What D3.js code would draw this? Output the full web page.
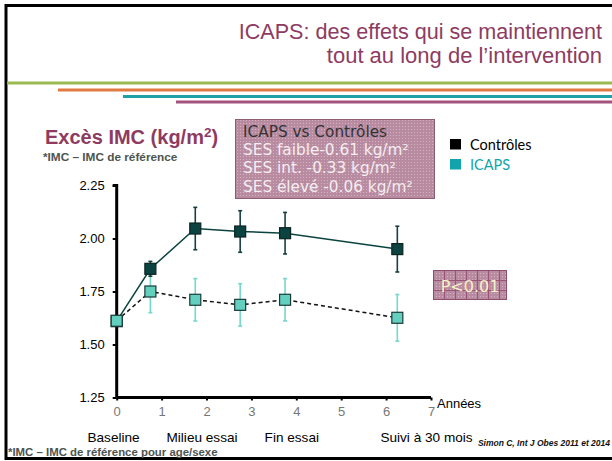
<!DOCTYPE html>
<html>
<head>
<meta charset="utf-8">
<script src="https://cdn.jsdelivr.net/npm/d3@7"></script>
<style>
  body { margin: 0; background: #fff; }
  svg { display: block; }
</style>
</head>
<body>
<svg id="chart" width="612" height="461"></svg>
<script>
// data
var years = [0, 0.75, 1.75, 2.75, 3.75, 6.25];
var controles = [1.61, 1.857, 2.047, 2.033, 2.025, 1.95];
var controlesErr = [0, 0.035, 0.1, 0.098, 0.098, 0.108];
var icaps = [1.612, 1.75, 1.711, 1.687, 1.711, 1.626];
var icapsErr = [0, 0.1, 0.1, 0.1, 0.1, 0.11];
var yTicks = [1.25, 1.50, 1.75, 2.00, 2.25];
var xTicks = [0, 1, 2, 3, 4, 5, 6, 7];
var phases = ['Baseline', 'Milieu essai', 'Fin essai', 'Suivi à 30 mois'];
var phaseYears = [-0.07, 1.9, 3.9, 6.9];
var sesLines = ['SES faible-0.61 kg/m²', 'SES int. -0.33 kg/m²', 'SES élevé -0.06 kg/m²'];

var MAUVE = '#8e3b62';
var DARK = '#0b4340';
var TEAL = '#62cfbf';
var ARIAL = '"Liberation Sans", Arial, sans-serif';

var svg = d3.select('#chart');
var defs = svg.append('defs');

// dotted fill for the SES box
var dots = defs.append('pattern').attr('id', 'dots')
  .attr('width', 3).attr('height', 3).attr('patternUnits', 'userSpaceOnUse');
dots.append('rect').attr('width', 3).attr('height', 3).attr('fill', '#b98ba1');
dots.append('rect').attr('width', 1).attr('height', 1).attr('fill', '#d3b2c2');

// grid fill for the p-value box
var grid = defs.append('pattern').attr('id', 'grid')
  .attr('width', 11).attr('height', 10).attr('patternUnits', 'userSpaceOnUse')
  .attr('x', 433).attr('y', 270);
grid.append('rect').attr('width', 11).attr('height', 10).attr('fill', 'url(#dots)');
grid.append('path').attr('d', 'M0,0.5H11M0.5,0V10').attr('stroke', '#9a5477').attr('stroke-width', 1);

// frame
svg.append('path').attr('d', 'M612,5.5H6V458.5H612')
  .attr('fill', 'none').attr('stroke', '#000').attr('stroke-width', 3);

// coloured rules under the title
var rules = [
  {x: 7, y: 83, c: '#9cba52'},
  {x: 58, y: 90, c: '#e07a42'},
  {x: 123, y: 96.5, c: '#1fa0a6'},
  {x: 176, y: 102, c: '#a4527e'}
];
svg.selectAll('.rule').data(rules).enter().append('line')
  .attr('x1', function(d){ return d.x; }).attr('x2', 612)
  .attr('y1', function(d){ return d.y; }).attr('y2', function(d){ return d.y; })
  .attr('stroke', function(d){ return d.c; }).attr('stroke-width', 2.8);

// title
svg.append('text').attr('x', 602).attr('y', 39).attr('text-anchor', 'end')
  .style('font', '21.6px ' + ARIAL).attr('fill', MAUVE)
  .text('ICAPS: des effets qui se maintiennent');
svg.append('text').attr('x', 602).attr('y', 63).attr('text-anchor', 'end')
  .style('font', '22px ' + ARIAL).attr('fill', MAUVE)
  .text('tout au long de l’intervention');

// heading
var head = svg.append('text').attr('x', 45).attr('y', 144)
  .style('font', 'bold 20px ' + ARIAL).attr('fill', MAUVE);
head.append('tspan').text('Excès IMC (kg/m');
head.append('tspan').attr('dy', -7).style('font-size', '13.5px').text('2');
head.append('tspan').attr('dy', 7).text(')');
svg.append('text').attr('x', 43).attr('y', 160.5)
  .style('font', 'bold 11.8px ' + ARIAL).attr('fill', '#4d5450')
  .text('*IMC – IMC de référence');

// scales
var x = d3.scaleLinear().domain([0, 7]).range([116.7, 431]);
var y = d3.scaleLinear().domain([1.25, 2.25]).range([397.5, 185.5]);

// y axis
var yAxis = svg.append('g').attr('transform', 'translate(' + x(0) + ',0)')
  .call(d3.axisLeft(y).tickValues(yTicks).tickFormat(d3.format('.2f')).tickSize(4).tickPadding(8));
yAxis.select('.domain').attr('stroke-width', 3).attr('d', 'M-4,' + y(2.25) + 'H0V' + y(1.25));
yAxis.selectAll('.tick line').attr('stroke-width', 2);
yAxis.selectAll('.tick text').style('font', '13px ' + ARIAL).attr('fill', '#000');

// x axis
var xAxis = svg.append('g').attr('transform', 'translate(0,' + y(1.25) + ')')
  .call(d3.axisBottom(x).tickValues(xTicks).tickFormat(d3.format('d')).tickSize(3).tickPadding(6));
xAxis.select('.domain').attr('stroke-width', 3).attr('d', 'M' + x(0) + ',0H' + x(7));
xAxis.selectAll('.tick line').attr('stroke-width', 2);
xAxis.selectAll('.tick text').style('font', '13px ' + ARIAL).attr('fill', '#777');

svg.append('text').attr('x', 437).attr('y', 408)
  .style('font', '13px ' + ARIAL).attr('fill', '#000').text('Années');

svg.selectAll('.phase').data(phases).enter().append('text')
  .attr('x', function(d, i){ return x(phaseYears[i]); }).attr('y', 441.5)
  .attr('text-anchor', 'middle')
  .style('font', '13.6px ' + ARIAL).attr('fill', '#000')
  .text(function(d){ return d; });

// series: error bars + connecting line
function drawSeries(vals, errs, opt) {
  var pts = years.map(function(t, i){ return {t: t, v: vals[i], e: errs[i]}; });
  var g = svg.append('g');
  var bars = g.selectAll('.err').data(pts.filter(function(d){ return d.e > 0; })).enter().append('g');
  bars.append('line')
    .attr('x1', function(d){ return x(d.t); }).attr('x2', function(d){ return x(d.t); })
    .attr('y1', function(d){ return y(d.v - d.e); }).attr('y2', function(d){ return y(d.v + d.e); })
    .attr('stroke', opt.err).attr('stroke-width', 1.6);
  [-1, 1].forEach(function(s){
    bars.append('line')
      .attr('x1', function(d){ return x(d.t) - 2; }).attr('x2', function(d){ return x(d.t) + 2; })
      .attr('y1', function(d){ return y(d.v + s * d.e); }).attr('y2', function(d){ return y(d.v + s * d.e); })
      .attr('stroke', opt.err).attr('stroke-width', 1.6);
  });
  g.append('path').datum(pts)
    .attr('d', d3.line().x(function(d){ return x(d.t); }).y(function(d){ return y(d.v); }))
    .attr('fill', 'none').attr('stroke', opt.line).attr('stroke-width', 1.5)
    .attr('stroke-dasharray', opt.dash);
  return pts;
}
function drawMarkers(pts, fill, stroke) {
  svg.append('g').selectAll('rect').data(pts).enter().append('rect')
    .attr('x', function(d){ return x(d.t) - 5.5; }).attr('y', function(d){ return y(d.v) - 5.5; })
    .attr('width', 11).attr('height', 11)
    .attr('fill', fill).attr('stroke', stroke).attr('stroke-width', 1.2);
}

var pIcaps = drawSeries(icaps, icapsErr, {err: '#74d8ca', line: '#111', dash: '4,3'});
var pCtrl = drawSeries(controles, controlesErr, {err: '#17413f', line: DARK, dash: null});
drawMarkers(pCtrl, DARK, '#0a2422');
// ICAPS on top (shared baseline point shows teal)
drawMarkers(pIcaps, TEAL, '#1b3b38');

// SES box
svg.append('rect').attr('x', 235.5).attr('y', 119.5).attr('width', 199).attr('height', 79)
  .attr('fill', 'url(#dots)').attr('stroke', '#8d5d74').attr('stroke-width', 1);
svg.append('text').attr('x', 243).attr('y', 137)
  .style('font', '15.3px "DejaVu Sans", Verdana, sans-serif').attr('fill', '#333').text('ICAPS vs Contrôles');
svg.selectAll('.ses').data(sesLines).enter().append('text')
  .attr('x', 243).attr('y', function(d, i){ return 155 + i * 18.3; })
  .style('font', '15.3px "DejaVu Sans", Verdana, sans-serif').attr('fill', '#f4eef1')
  .text(function(d){ return d; });

// legend
var legend = [{name: 'Contrôles', c: '#000', t: '#000'}, {name: 'ICAPS', c: '#12a4ad', t: '#12a4ad'}];
var lg = svg.selectAll('.lg').data(legend).enter().append('g')
  .attr('transform', function(d, i){ return 'translate(450,' + (139 + i * 20) + ')'; });
lg.append('rect').attr('width', 11).attr('height', 10.5).attr('fill', function(d){ return d.c; });
lg.append('text').attr('x', 20).attr('y', 10.5)
  .style('font', '14.5px Lato, "Open Sans", sans-serif').attr('fill', function(d){ return d.t; })
  .text(function(d){ return d.name; });

// p-value box
svg.append('rect').attr('x', 433.5).attr('y', 270.5).attr('width', 73).attr('height', 29)
  .attr('fill', 'url(#grid)').attr('stroke', '#8d4d6c').attr('stroke-width', 1);
svg.append('text').attr('x', 470).attr('y', 291.5).attr('text-anchor', 'middle')
  .style('font', '16px "DejaVu Sans", Verdana, sans-serif').attr('fill', '#f6f1c8').text('P<0.01');

// footnotes
svg.append('text').attr('x', 8).attr('y', 455.5)
  .style('font', 'bold 11.4px ' + ARIAL).attr('fill', '#4d5450')
  .text('*IMC – IMC de référence pour age/sexe');
svg.append('text').attr('x', 610).attr('y', 446).attr('text-anchor', 'end')
  .style('font', 'italic bold 8.5px ' + ARIAL).attr('fill', '#111')
  .text('Simon C, Int J Obes 2011 et 2014');
</script>
</body>
</html>
